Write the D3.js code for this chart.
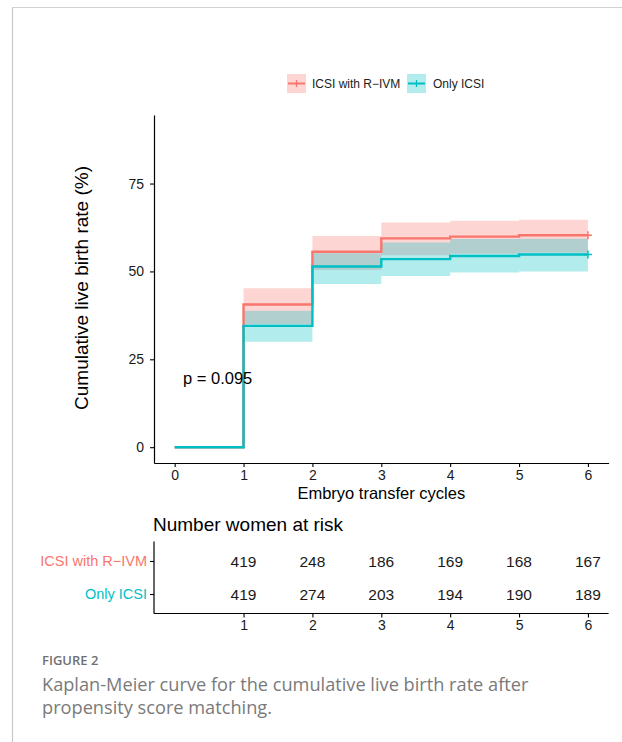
<!DOCTYPE html>
<html>
<head>
<meta charset="utf-8">
<script src="https://cdn.jsdelivr.net/npm/d3@7"></script>
<style>
  html, body { margin: 0; padding: 0; background: #fff; }
  svg { display: block; }
</style>
</head>
<body>
<svg id="chart" width="622" height="742"></svg>
<script>
// ---------- data ----------
const groups = ["ICSI with R\u2212IVM", "Only ICSI"];
const groupColors = ["#F8766D", "#00BFC4"];
const times = [0, 1, 2, 3, 4, 5, 6];
// cumulative live birth rate (%) from each time to the next
const estRIVM  = [0, 40.6, 55.6, 59.4, 59.9, 60.3, 60.3];
const upRIVM   = [0, 45.2, 60.1, 63.9, 64.4, 64.7, 64.7];
const lowRIVM  = [0, 35.0, 50.4, 54.6, 55.0, 55.3, 55.3];
const estICSI  = [0, 34.5, 51.4, 53.5, 54.4, 54.8, 54.8];
const upICSI   = [0, 38.8, 55.2, 58.2, 59.2, 59.3, 59.3];
const lowICSI  = [0, 30.0, 46.4, 48.7, 49.7, 50.0, 50.0];
const xTicks = [0, 1, 2, 3, 4, 5, 6];
const yTicks = [0, 25, 50, 75];
const riskTimes = [1, 2, 3, 4, 5, 6];
const riskRIVM = [419, 248, 186, 169, 168, 167];
const riskICSI = [419, 274, 203, 194, 190, 189];
const pValueText = "p = 0.095";

// ---------- setup ----------
const svg = d3.select("#chart");
const FONT = "'Liberation Sans', Arial, sans-serif";

// page frame
svg.append("line").attr("x1", 12.5).attr("x2", 12.5).attr("y1", 7.5).attr("y2", 742)
  .attr("stroke", "#c8c8c8").attr("stroke-width", 1.2);
svg.append("line").attr("x1", 12).attr("x2", 622).attr("y1", 7.5).attr("y2", 7.5)
  .attr("stroke", "#d2d2d2").attr("stroke-width", 1.2);

const x = d3.scaleLinear().domain([-0.3, 6.3]).range([154, 608.6]);
const y = d3.scaleLinear().domain([-4.5, 94.5]).range([463, 115]);
const fmt = d3.format("d");

const series = [
  { name: groups[0], color: groupColors[0], est: estRIVM, up: upRIVM, low: lowRIVM },
  { name: groups[1], color: groupColors[1], est: estICSI, up: upICSI, low: lowICSI }
];

// ribbons
const area = d3.area()
  .x(d => x(d.t)).y0(d => y(d.lo)).y1(d => y(d.hi))
  .curve(d3.curveStepAfter);
series.forEach(s => {
  const pts = times.map((t, i) => ({ t, lo: s.low[i], hi: s.up[i] })).filter(d => d.t >= 1);
  svg.append("path").datum(pts).attr("d", area)
    .attr("fill", s.color).attr("fill-opacity", 0.3).attr("stroke", "none");
});

// step lines
const line = d3.line().x(d => x(d.t)).y(d => y(d.v)).curve(d3.curveStepAfter);
series.forEach(s => {
  const pts = times.map((t, i) => ({ t, v: s.est[i] }));
  svg.append("path").datum(pts).attr("d", line)
    .attr("fill", "none").attr("stroke", s.color).attr("stroke-width", 2.4);
  // censor mark at last time
  const lt = times[times.length - 1], lv = s.est[s.est.length - 1];
  svg.append("path")
    .attr("d", `M${x(lt) - 4},${y(lv)}H${x(lt) + 4}M${x(lt)},${y(lv) - 4}V${y(lv) + 4}`)
    .attr("stroke", s.color).attr("stroke-width", 1.5);
});

// axes
const xAxis = svg.append("g").attr("transform", "translate(0,463)")
  .call(d3.axisBottom(x).tickValues(xTicks).tickFormat(fmt).tickSize(4).tickSizeOuter(0).tickPadding(3));
const yAxis = svg.append("g").attr("transform", "translate(154,0)")
  .call(d3.axisLeft(y).tickValues(yTicks).tickFormat(fmt).tickSize(4).tickSizeOuter(0).tickPadding(6));
[xAxis, yAxis].forEach(g => {
  g.select(".domain").attr("stroke", "#000").attr("stroke-width", 1.2);
  g.selectAll(".tick line").attr("stroke", "#000").attr("stroke-width", 1.1);
  g.selectAll(".tick text").attr("fill", "#1a1a1a").style("font-family", FONT).style("font-size", "14px");
});

// axis titles
svg.append("text").attr("x", x(3)).attr("y", 499).attr("text-anchor", "middle")
  .style("font-family", FONT).style("font-size", "16.5px").attr("fill", "#000")
  .text("Embryo transfer cycles");
svg.append("text").attr("transform", "translate(88,288) rotate(-90)").attr("text-anchor", "middle")
  .style("font-family", FONT).style("font-size", "19px").attr("fill", "#000")
  .text("Cumulative live birth rate (%)");

// p-value
svg.append("text").attr("x", 183).attr("y", 384)
  .style("font-family", FONT).style("font-size", "16.5px").attr("fill", "#000")
  .text(pValueText);

// legend
const legend = svg.append("g");
const legendKeys = [{ x: 287, lx: 312 }, { x: 407, lx: 433 }];
series.forEach((s, i) => {
  const k = legendKeys[i];
  legend.append("rect").attr("x", k.x).attr("y", 74).attr("width", 19).attr("height", 19)
    .attr("fill", s.color).attr("fill-opacity", 0.3);
  legend.append("line").attr("x1", k.x + 1).attr("x2", k.x + 18).attr("y1", 83.5).attr("y2", 83.5)
    .attr("stroke", s.color).attr("stroke-width", 2);
  legend.append("line").attr("x1", k.x + 9.5).attr("x2", k.x + 9.5).attr("y1", 80).attr("y2", 87)
    .attr("stroke", s.color).attr("stroke-width", 1.3);
  legend.append("text").attr("x", k.lx).attr("y", 88)
    .style("font-family", FONT).style("font-size", "12px").attr("fill", "#222")
    .text(s.name);
});

// ---------- risk table ----------
svg.append("text").attr("x", 153).attr("y", 531)
  .style("font-family", FONT).style("font-size", "19px").attr("fill", "#000")
  .text("Number women at risk");

const yr = d3.scalePoint().domain([groups[1], groups[0]]).range([594, 561]);
const rxAxis = svg.append("g").attr("transform", "translate(0,613.5)")
  .call(d3.axisBottom(x).tickValues(riskTimes).tickFormat(fmt).tickSize(4).tickSizeOuter(0).tickPadding(3));
rxAxis.select(".domain").attr("d", `M154,0H${x(6.3)}`);
const ryAxis = svg.append("g").attr("transform", "translate(154,0)")
  .call(d3.axisLeft(yr).tickSize(4).tickSizeOuter(0).tickPadding(3));
ryAxis.select(".domain").attr("d", "M0,541.5V613.5");
[rxAxis, ryAxis].forEach(g => {
  g.select(".domain").attr("stroke", "#000").attr("stroke-width", 1.2).attr("fill", "none");
  g.selectAll(".tick line").attr("stroke", "#000").attr("stroke-width", 1.1);
  g.selectAll(".tick text").style("font-family", FONT);
});
rxAxis.selectAll(".tick text").attr("fill", "#1a1a1a").style("font-size", "14px");
ryAxis.selectAll(".tick text").style("font-size", "14.5px")
  .attr("fill", d => groupColors[groups.indexOf(d)]);

const riskRows = [{ g: groups[0], vals: riskRIVM }, { g: groups[1], vals: riskICSI }];
riskRows.forEach(r => {
  svg.append("g").selectAll("text").data(r.vals).join("text")
    .attr("x", (d, i) => x(riskTimes[i])).attr("y", yr(r.g)).attr("dy", "0.36em")
    .attr("text-anchor", "middle")
    .style("font-family", FONT).style("font-size", "15.5px").attr("fill", "#1a1a1a")
    .text(d => d);
});

// ---------- caption ----------
svg.append("text").attr("x", 42).attr("y", 665)
  .style("font-family", "'Open Sans', sans-serif").style("font-size", "13px")
  .style("font-weight", "600").attr("fill", "#707070").text("FIGURE 2");
svg.append("text").attr("x", 42).attr("y", 691)
  .style("font-family", "'Open Sans', sans-serif").style("font-size", "18.2px")
  .attr("fill", "#7a7a7a").text("Kaplan-Meier curve for the cumulative live birth rate after");
svg.append("text").attr("x", 42).attr("y", 714)
  .style("font-family", "'Open Sans', sans-serif").style("font-size", "18.2px")
  .attr("fill", "#7a7a7a").text("propensity score matching.");
</script>
</body>
</html>
